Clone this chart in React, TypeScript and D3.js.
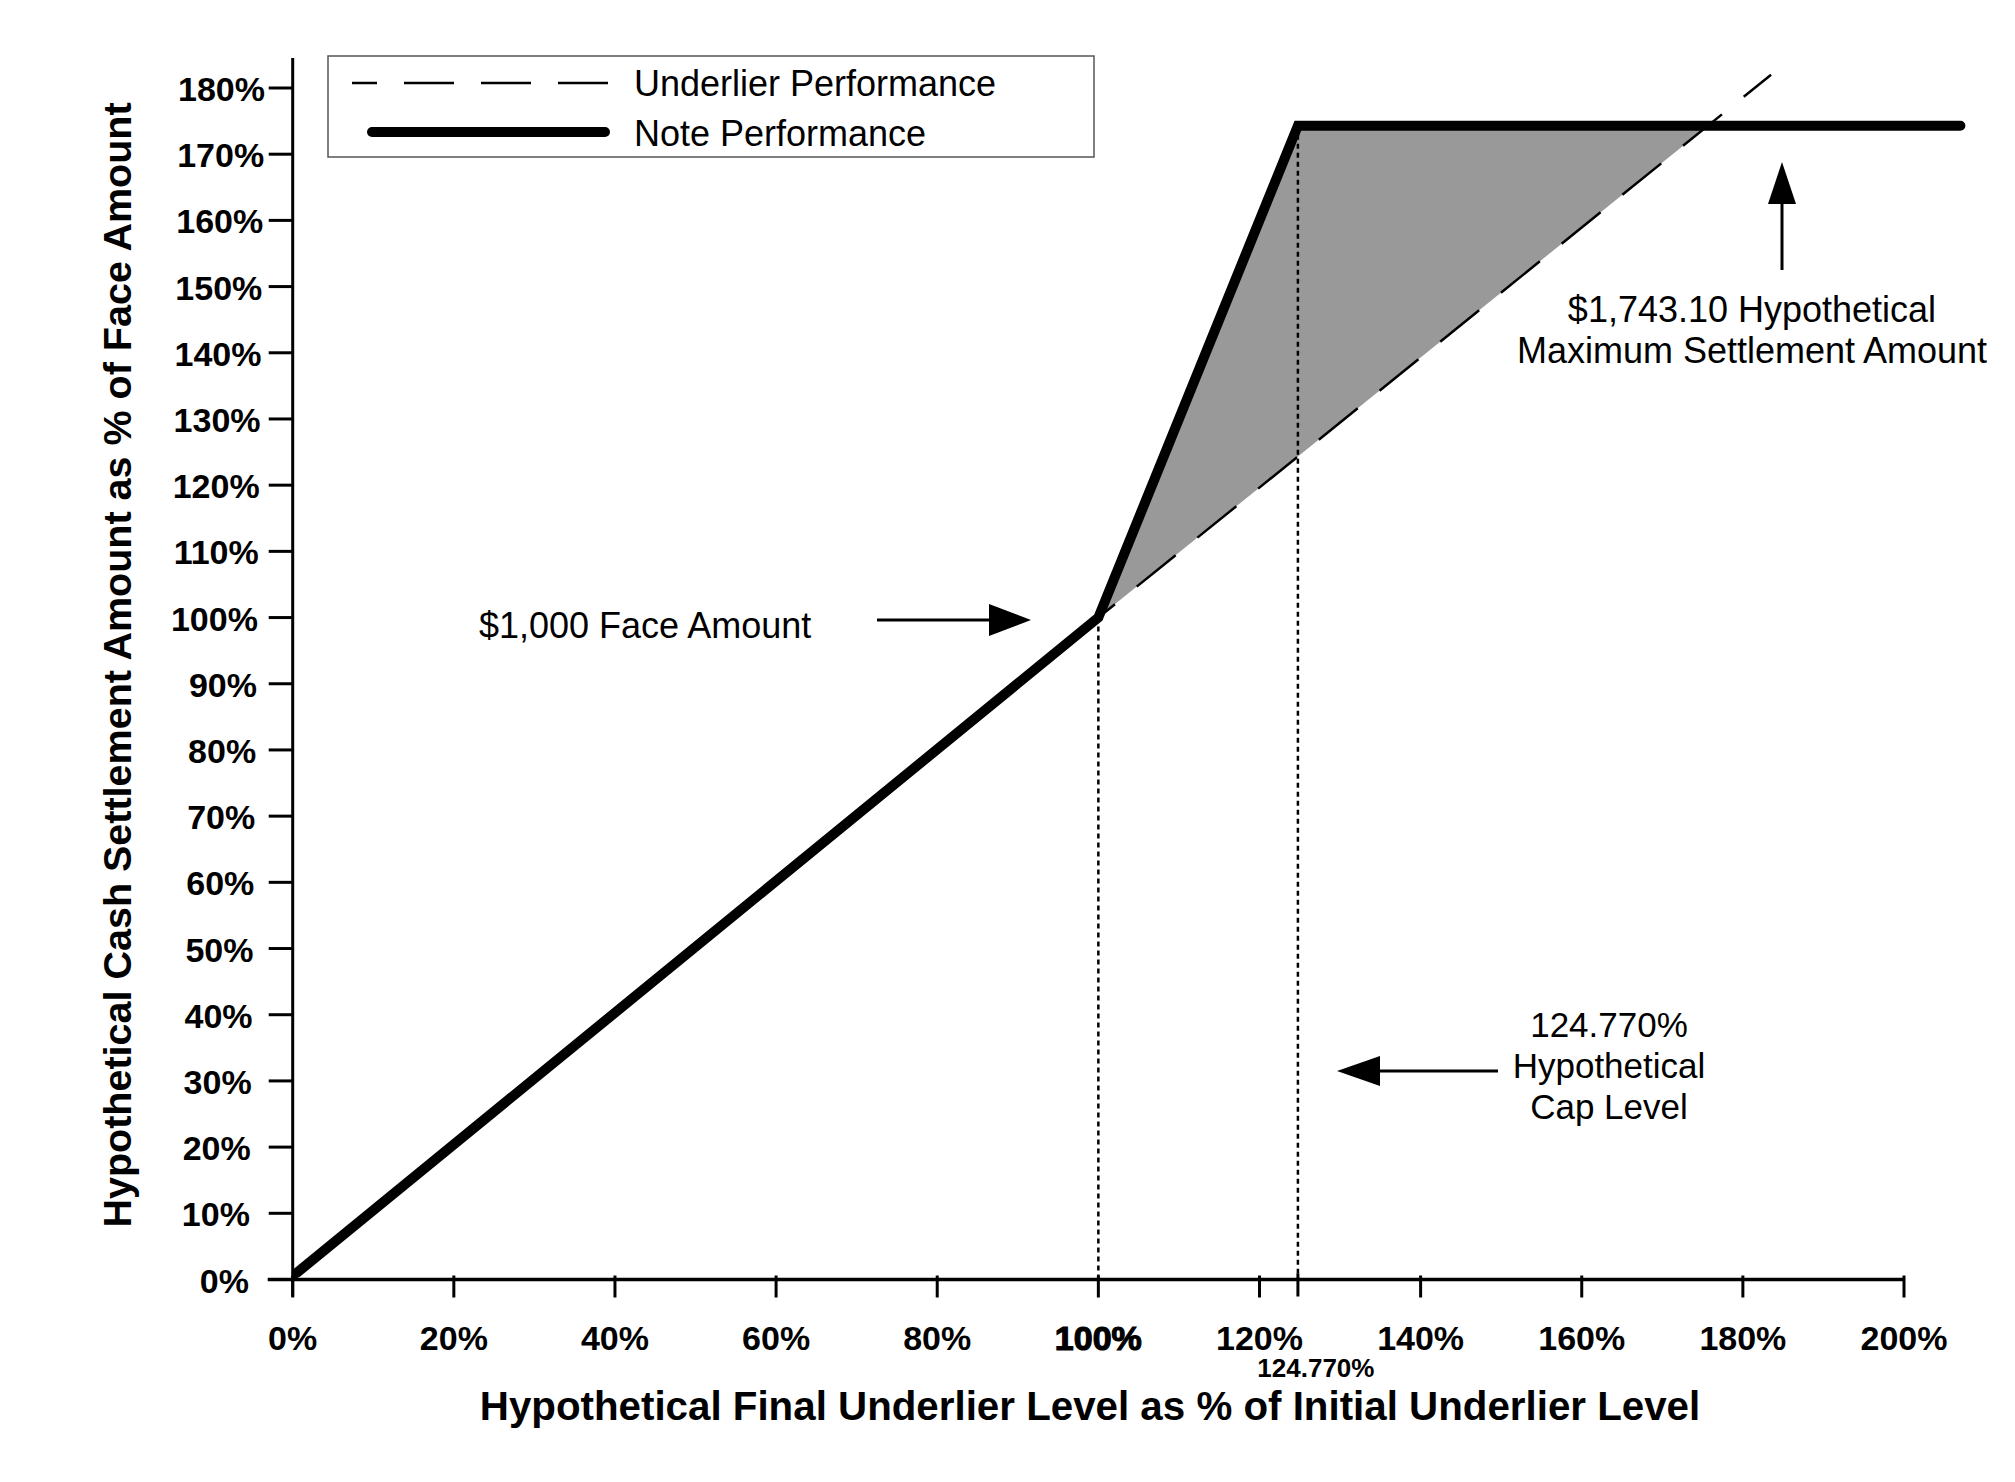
import React, { useEffect } from "react";
import * as d3 from "d3";

// ---- data ----
const xTicks = [0, 20, 40, 60, 80, 100, 120, 140, 160, 180, 200];
const yTicks = [0, 10, 20, 30, 40, 50, 60, 70, 80, 90, 100, 110, 120, 130, 140, 150, 160, 170, 180];
const capLevel = 124.77;
const maxSettlement = 174.31;
const notePerformance = [
  { x: 0.5, y: 1 },
  { x: 100, y: 100 },
  { x: 124.77, y: 174.31 },
  { x: 207, y: 174.31 },
];
const underlierPerformance = [
  { x: 0, y: 0 },
  { x: 100, y: 100 },
  { x: 183.5, y: 182 },
];
const shadedRegion = [
  { x: 100, lo: 100, hi: 100 },
  { x: 124.77, lo: 124.32, hi: 174.31 },
  { x: 175.67, lo: 174.31, hi: 174.31 },
];
const legendItems = ["Underlier Performance", "Note Performance"];
const xTitle = "Hypothetical Final Underlier Level as % of Initial Underlier Level";
const yTitle = "Hypothetical Cash Settlement Amount as % of Face Amount";

const W = 2015;
const H = 1482;
const FONT = "'Liberation Sans', Arial, Helvetica, sans-serif";

export default function App() {
  useEffect(() => {
    document.body.style.margin = "0";
  }, []);

  const x = d3.scaleLinear().domain([0, 200]).range([292.7, 1904]);
  const y = d3.scaleLinear().domain([0, 180]).range([1279.5, 88]);
  // slight drift of the y tick labels' right edge in the original
  const labelRight = d3.scaleLinear().domain([0, 180]).range([249, 265]);

  const line = d3
    .line<{ x: number; y: number }>()
    .x((d) => x(d.x))
    .y((d) => y(d.y));
  const area = d3
    .area<{ x: number; lo: number; hi: number }>()
    .x((d) => x(d.x))
    .y0((d) => y(d.lo))
    .y1((d) => y(d.hi));

  const axisY = y(0);
  const axisX = x(0);

  const arrowRight = (x1: number, tip: number, yy: number) => (
    <g>
      <line x1={x1} y1={yy} x2={tip - 38} y2={yy} stroke="#000" strokeWidth={3} />
      <path d={`M${tip},${yy} L${tip - 42},${yy - 16} L${tip - 42},${yy + 16} Z`} fill="#000" />
    </g>
  );
  const arrowLeft = (x1: number, tip: number, yy: number) => (
    <g>
      <line x1={x1} y1={yy} x2={tip + 38} y2={yy} stroke="#000" strokeWidth={3} />
      <path d={`M${tip},${yy} L${tip + 43},${yy - 15} L${tip + 43},${yy + 15} Z`} fill="#000" />
    </g>
  );
  const arrowUp = (xx: number, y1: number, tip: number) => (
    <g>
      <line x1={xx} y1={y1} x2={xx} y2={tip + 38} stroke="#000" strokeWidth={3} />
      <path d={`M${xx},${tip} L${xx - 14},${tip + 42} L${xx + 14},${tip + 42} Z`} fill="#000" />
    </g>
  );

  return (
    <svg width={W} height={H} viewBox={`0 0 ${W} ${H}`} style={{ display: "block", background: "#fff" }} fontFamily={FONT}>
      <rect x={0} y={0} width={W} height={H} fill="#fff" />

      {/* shaded gain region */}
      <path d={area(shadedRegion) || ""} fill="#999999" stroke="none" />

      {/* underlier dashed line */}
      <path
        d={line(underlierPerformance) || ""}
        fill="none"
        stroke="#000"
        strokeWidth={2.5}
        strokeDasharray="50,28"
      />

      {/* dotted verticals */}
      <line x1={x(100)} x2={x(100)} y1={y(100)} y2={axisY} stroke="#000" strokeWidth={2.5} strokeDasharray="5,4" />
      <line x1={x(capLevel)} x2={x(capLevel)} y1={y(maxSettlement)} y2={axisY} stroke="#000" strokeWidth={2.5} strokeDasharray="5,4" />

      {/* note performance */}
      <path
        d={line(notePerformance) || ""}
        fill="none"
        stroke="#000"
        strokeWidth={10}
        strokeLinejoin="miter"
        strokeLinecap="round"
      />

      {/* y axis */}
      <line x1={axisX} x2={axisX} y1={58} y2={axisY + 17} stroke="#000" strokeWidth={3} />
      {yTicks.map((t) => (
        <g key={"y" + t}>
          <line x1={axisX - 24} x2={axisX} y1={y(t)} y2={y(t)} stroke="#000" strokeWidth={3} />
          <text
            x={labelRight(t)}
            y={y(t) + 1}
            textAnchor="end"
            dominantBaseline="central"
            fontSize={34}
            fontWeight="bold"
          >
            {t}%
          </text>
        </g>
      ))}

      {/* x axis */}
      <line x1={axisX - 25} x2={x(200)} y1={axisY} y2={axisY} stroke="#000" strokeWidth={3.5} />
      {xTicks.map((t) => (
        <g key={"x" + t}>
          <line x1={x(t)} x2={x(t)} y1={axisY - 4} y2={axisY + 18} stroke="#000" strokeWidth={3} />
          <text
            x={x(t)}
            y={1350}
            textAnchor="middle"
            fontSize={34}
            fontWeight="bold"
            stroke={t === 100 ? "#000" : "none"}
            strokeWidth={t === 100 ? 1.2 : 0}
          >
            {t}%
          </text>
        </g>
      ))}
      <line x1={x(capLevel)} x2={x(capLevel)} y1={axisY - 6} y2={axisY + 17} stroke="#000" strokeWidth={3} />
      <text x={x(capLevel) + 18} y={1377} textAnchor="middle" fontSize={26} fontWeight="bold">
        {capLevel.toFixed(3)}%
      </text>

      {/* axis titles */}
      <text x={1090} y={1420} textAnchor="middle" fontSize={40.3} fontWeight="bold">
        {xTitle}
      </text>
      <text transform={`translate(131,665) rotate(-90)`} textAnchor="middle" fontSize={39.5} fontWeight="bold">
        {yTitle}
      </text>

      {/* legend */}
      <rect x={328} y={56} width={766} height={101} fill="#fff" stroke="#555" strokeWidth={1.5} />
      <line x1={352} x2={609} y1={83} y2={83} stroke="#000" strokeWidth={2.5} strokeDasharray="50,27" strokeDashoffset={25} />
      <line x1={372} x2={605} y1={132} y2={132} stroke="#000" strokeWidth={10} strokeLinecap="round" />
      <text x={634} y={96} fontSize={36}>
        {legendItems[0]}
      </text>
      <text x={634} y={146} fontSize={36}>
        {legendItems[1]}
      </text>

      {/* annotations */}
      <text x={479} y={638} fontSize={36}>
        $1,000 Face Amount
      </text>
      {arrowRight(877, 1031, 620)}

      {arrowUp(1782, 270, 162)}
      <text x={1752} y={322} textAnchor="middle" fontSize={36}>
        $1,743.10 Hypothetical
      </text>
      <text x={1752} y={363} textAnchor="middle" fontSize={36}>
        Maximum Settlement Amount
      </text>

      {arrowLeft(1498, 1337, 1071)}
      <text x={1609} y={1037} textAnchor="middle" fontSize={35}>
        124.770%
      </text>
      <text x={1609} y={1078} textAnchor="middle" fontSize={35}>
        Hypothetical
      </text>
      <text x={1609} y={1119} textAnchor="middle" fontSize={35}>
        Cap Level
      </text>
    </svg>
  );
}
